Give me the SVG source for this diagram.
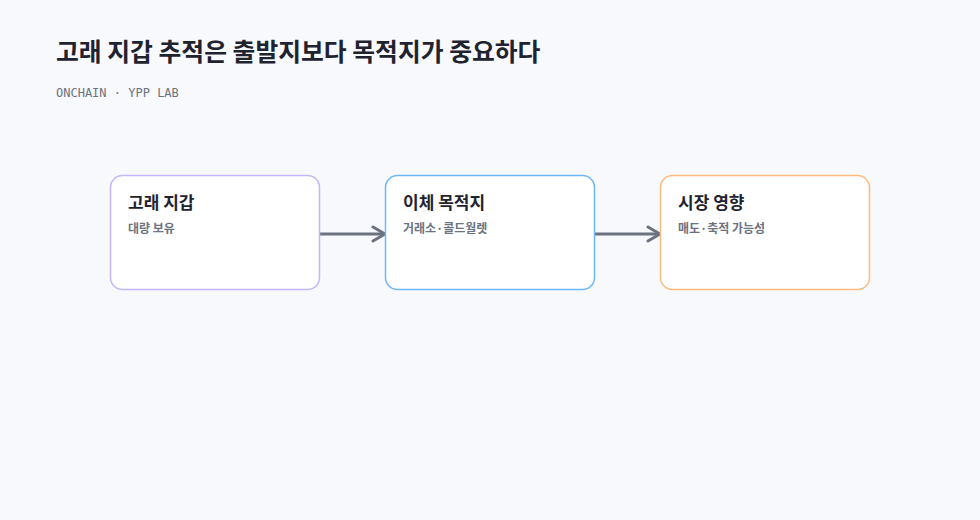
<svg xmlns="http://www.w3.org/2000/svg" width="980" height="520" viewBox="0 0 980 520">
<defs>
<style>
.bg{fill:#f8f9fc}
.title{font-family:"Noto Sans CJK KR","Noto Sans",sans-serif;font-size:24.8px;font-weight:700;fill:#1f2330}
.sub{font-family:"DejaVu Sans Mono","Liberation Mono",monospace;font-size:12px;fill:#6b7280}
.box{fill:#ffffff;stroke-width:1.5}
.nt{font-family:"Noto Sans CJK KR","Noto Sans",sans-serif;font-size:17px;font-weight:700;fill:#1f2330}
.ns{font-family:"Noto Sans CJK KR","Noto Sans",sans-serif;font-size:12px;font-weight:700;fill:#6b7280}
.edge{stroke:#6b7280;stroke-width:3;fill:none}
</style>
<marker id="arr" viewBox="0 0 16 18" refX="14" refY="9" markerWidth="16" markerHeight="18" markerUnits="userSpaceOnUse" orient="auto">
<path d="M2,2 L14,9 L2,16" fill="none" stroke="#6b7280" stroke-width="3" stroke-linecap="round" stroke-linejoin="round"/>
</marker>
</defs>
<rect class="bg" x="0" y="0" width="980" height="520"/>
<text class="title" x="56" y="61">고래 지갑 추적은 출발지보다 목적지가 중요하다</text>
<text class="sub" x="56" y="97">ONCHAIN · YPP LAB</text>
<g id="edges">
<line class="edge" x1="320" y1="234" x2="385" y2="234" marker-end="url(#arr)"/>
<line class="edge" x1="595" y1="234" x2="660" y2="234" marker-end="url(#arr)"/>
</g>
<g id="node1">
<rect class="box" x="110.5" y="175.5" width="209" height="114" rx="12" stroke="#c4b5fd"/>
<text class="nt" x="128" y="209">고래 지갑</text>
<text class="ns" x="128" y="233">대량 보유</text>
</g>
<g id="node2">
<rect class="box" x="385.5" y="175.5" width="209" height="114" rx="12" stroke="#6cb6fa"/>
<text class="nt" x="403" y="209">이체 목적지</text>
<text class="ns" x="403" y="233">거래소·콜드월렛</text>
</g>
<g id="node3">
<rect class="box" x="660.5" y="175.5" width="209" height="114" rx="12" stroke="#fdbb7d"/>
<text class="nt" x="678" y="209">시장 영향</text>
<text class="ns" x="678" y="233">매도·축적 가능성</text>
</g>
</svg>
